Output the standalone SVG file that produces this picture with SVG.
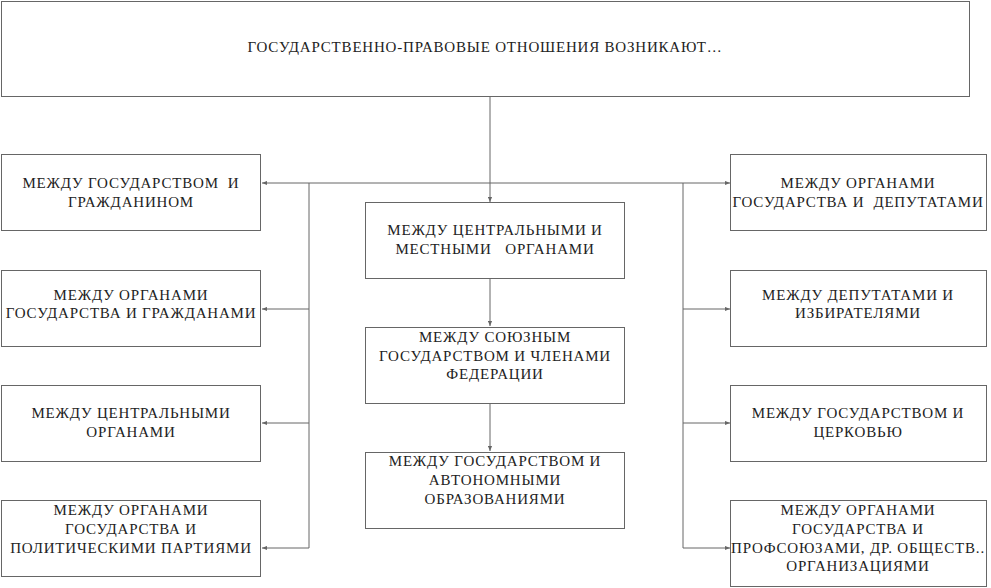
<svg xmlns="http://www.w3.org/2000/svg" width="991" height="588" viewBox="0 0 991 588">
<style>
.box{fill:#fff;stroke:#666;stroke-width:1}
.t{font-family:"Liberation Serif","DejaVu Serif",serif;font-size:15px;letter-spacing:0.8px;fill:#222;text-anchor:middle;white-space:pre}
.c{fill:none;stroke:#666;stroke-width:1}
</style>
<defs>
<marker id="a" viewBox="0 0 6 6" refX="6" refY="3" markerWidth="5" markerHeight="5" orient="auto" markerUnits="userSpaceOnUse">
<path d="M0,0.5 L6,3 L0,5.5 Z" fill="#666"/>
</marker>
</defs>
<rect width="991" height="588" fill="#fff"/>
<g id="connectors">
<path class="c" d="M490,97 V202" marker-end="url(#a)"/>
<path class="c" d="M309,183 H683"/>
<path class="c" d="M309,183 H262" marker-end="url(#a)"/>
<path class="c" d="M309,183 V548"/>
<path class="c" d="M309,309 H262" marker-end="url(#a)"/>
<path class="c" d="M309,423 H262" marker-end="url(#a)"/>
<path class="c" d="M309,548 H262" marker-end="url(#a)"/>
<path class="c" d="M683,183 H730" marker-end="url(#a)"/>
<path class="c" d="M683,183 V548"/>
<path class="c" d="M683,309 H730" marker-end="url(#a)"/>
<path class="c" d="M683,423 H730" marker-end="url(#a)"/>
<path class="c" d="M683,548 H730" marker-end="url(#a)"/>
<path class="c" d="M490,279 V326" marker-end="url(#a)"/>
<path class="c" d="M490,404 V451" marker-end="url(#a)"/>
</g>
<g id="top">
<rect class="box" x="1.5" y="1.5" width="968" height="95"/>
<text class="t" x="485" y="52">ГОСУДАРСТВЕННО-ПРАВОВЫЕ ОТНОШЕНИЯ ВОЗНИКАЮТ…</text>
</g>
<g id="l1">
<rect class="box" x="1.5" y="154.5" width="259" height="76"/>
<text class="t" x="131" y="188">МЕЖДУ ГОСУДАРСТВОМ  И</text>
<text class="t" x="131" y="207">ГРАЖДАНИНОМ</text>
</g>
<g id="l2">
<rect class="box" x="1.5" y="270.5" width="259" height="76"/>
<text class="t" x="131" y="300">МЕЖДУ ОРГАНАМИ</text>
<text class="t" x="131" y="318">ГОСУДАРСТВА И ГРАЖДАНАМИ</text>
</g>
<g id="l3">
<rect class="box" x="1.5" y="385.5" width="259" height="76"/>
<text class="t" x="131" y="418">МЕЖДУ ЦЕНТРАЛЬНЫМИ</text>
<text class="t" x="131" y="437">ОРГАНАМИ</text>
</g>
<g id="l4">
<rect class="box" x="1.5" y="500.5" width="259" height="76"/>
<text class="t" x="131" y="515">МЕЖДУ ОРГАНАМИ</text>
<text class="t" x="131" y="534">ГОСУДАРСТВА И</text>
<text class="t" x="131" y="553">ПОЛИТИЧЕСКИМИ ПАРТИЯМИ</text>
</g>
<g id="c1">
<rect class="box" x="365.5" y="202.5" width="259" height="76"/>
<text class="t" x="495" y="235">МЕЖДУ ЦЕНТРАЛЬНЫМИ И</text>
<text class="t" x="495" y="254">МЕСТНЫМИ   ОРГАНАМИ</text>
</g>
<g id="c2">
<rect class="box" x="365.5" y="327.5" width="259" height="76"/>
<text class="t" x="495" y="342">МЕЖДУ СОЮЗНЫМ</text>
<text class="t" x="495" y="361">ГОСУДАРСТВОМ И ЧЛЕНАМИ</text>
<text class="t" x="495" y="379">ФЕДЕРАЦИИ</text>
</g>
<g id="c3">
<rect class="box" x="365.5" y="452.5" width="259" height="76"/>
<text class="t" x="495" y="466">МЕЖДУ ГОСУДАРСТВОМ И</text>
<text class="t" x="495" y="485">АВТОНОМНЫМИ</text>
<text class="t" x="495" y="504">ОБРАЗОВАНИЯМИ</text>
</g>
<g id="r1">
<rect class="box" x="730.5" y="154.5" width="256" height="76"/>
<text class="t" x="858" y="188">МЕЖДУ ОРГАНАМИ</text>
<text class="t" x="858" y="207">ГОСУДАРСТВА И  ДЕПУТАТАМИ</text>
</g>
<g id="r2">
<rect class="box" x="730.5" y="270.5" width="256" height="76"/>
<text class="t" x="858" y="300">МЕЖДУ ДЕПУТАТАМИ И</text>
<text class="t" x="858" y="318">ИЗБИРАТЕЛЯМИ</text>
</g>
<g id="r3">
<rect class="box" x="730.5" y="385.5" width="256" height="76"/>
<text class="t" x="858" y="418">МЕЖДУ ГОСУДАРСТВОМ И</text>
<text class="t" x="858" y="437">ЦЕРКОВЬЮ</text>
</g>
<g id="r4">
<rect class="box" x="730.5" y="500.5" width="256" height="86"/>
<text class="t" x="858" y="515">МЕЖДУ ОРГАНАМИ</text>
<text class="t" x="858" y="534">ГОСУДАРСТВА И</text>
<text class="t" x="858" y="553">ПРОФСОЮЗАМИ, ДР. ОБЩЕСТВ..</text>
<text class="t" x="858" y="571">ОРГАНИЗАЦИЯМИ</text>
</g>
</svg>
